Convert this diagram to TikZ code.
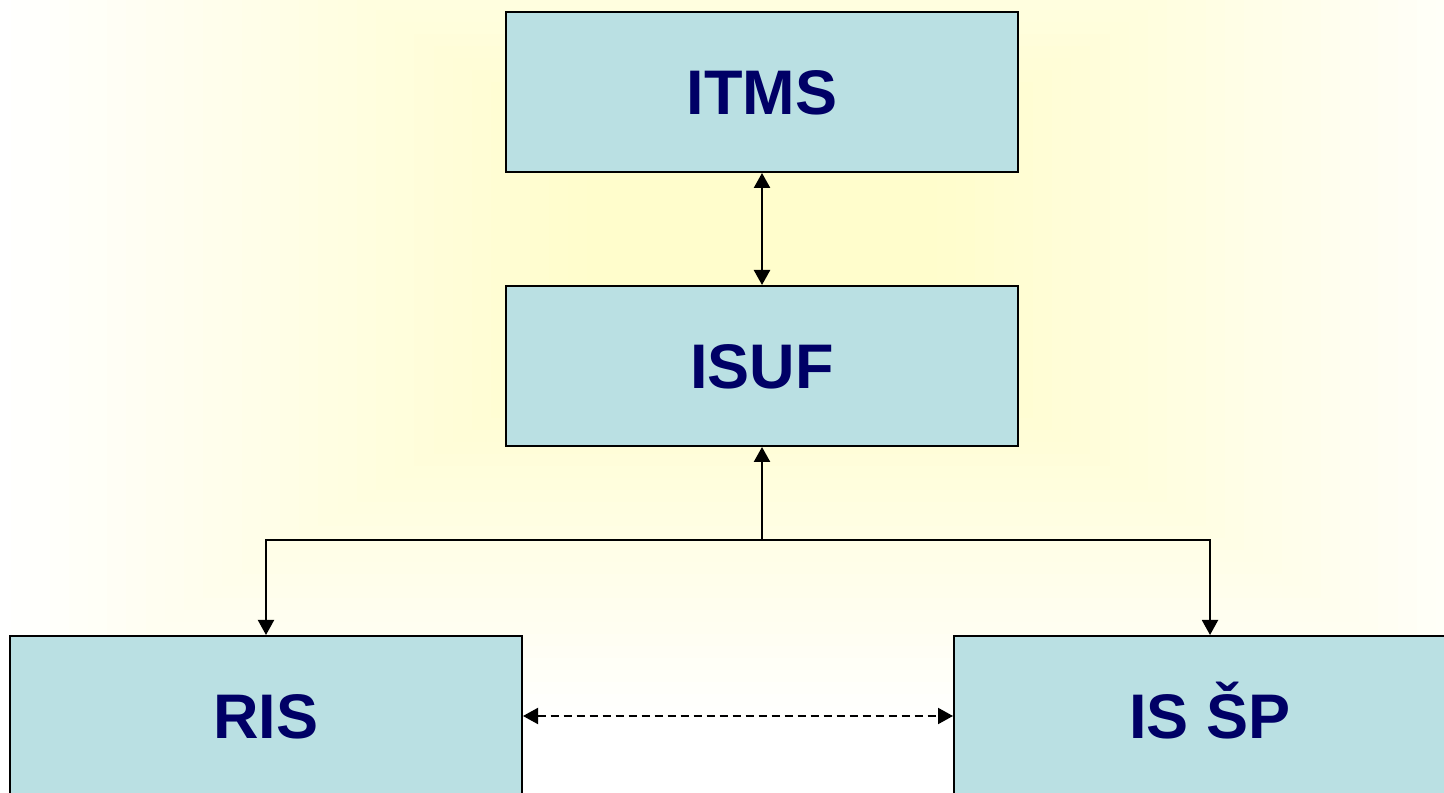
\documentclass[tikz,border=0pt]{standalone}
\usepackage{fontspec}
\setmainfont{Liberation Sans}
\definecolor{isBoxBlue}{HTML}{BAE0E3}
\definecolor{isNavy}{HTML}{000066}
\definecolor{isGlow}{HTML}{FFFDCC}
\usetikzlibrary{arrows.meta, positioning, calc}
\tikzset{
    system node/.style={rectangle, draw=black, fill=isBoxBlue, line width=1pt, minimum width=256pt, minimum height=80pt, align=center, text=isNavy, font=\bfseries\fontsize{31.5}{38}\selectfont, text height=22.6pt, text depth=0pt},
    link arrow/.style={{Triangle[length=7.5pt, width=8pt]}-{Triangle[length=7.5pt, width=8pt]}, line width=1.2pt, black},
    feed arrow/.style={-{Triangle[length=7.5pt, width=8pt]}, line width=1pt, black},
    dash arrow/.style={{Triangle[length=7.5pt, width=8pt]}-{Triangle[length=7.5pt, width=8pt]}, line width=1pt, dash pattern=on 4pt off 2.5pt, black},
}

\begin{document}
\begin{tikzpicture}[x=1pt, y=1pt, node distance=56pt]
    \useasboundingbox (0,0) rectangle (722,396);
    \clip (0,0) rectangle (722,396);
    % soft yellow glow, brightest round ISUF
    \fill[white] (0,0) rectangle (722,396);
    \foreach \i in {0,...,40} {
        \pgfmathsetmacro{\glowmix}{min(100,3.3*\i)}
        \fill[isGlow!\glowmix!white] ($(381,271)+(-385+9.6*\i,-240+6*\i)$) rectangle ($(381,271)+(385-9.6*\i,240-6*\i)$);
    }

    \node[system node] (itms) at (381,350) {ITMS};
    \node[system node, below=of itms] (isuf) {ISUF};
    \node[system node] (ris) at (133,38) {RIS};
    \node[system node] (isp) at (605,38) {IS ŠP};

    \coordinate (fork) at (381,126);

    \draw[link arrow] (itms) -- (isuf);
    \draw[feed arrow, line width=1.2pt] (fork) -- (isuf);
    \draw[feed arrow] (fork) -| (ris.north);
    \draw[feed arrow] (fork) -| (isp.north);
    \draw[dash arrow] (ris) -- (isp);
\end{tikzpicture}
\end{document}
